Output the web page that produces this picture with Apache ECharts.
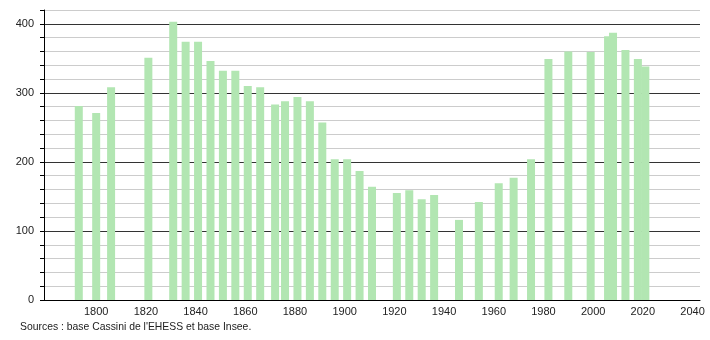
<!DOCTYPE html>
<html>
<head>
<meta charset="utf-8">
<script src="https://cdn.jsdelivr.net/npm/echarts@6/dist/echarts.min.js"></script>
<style>html,body{margin:0;padding:0;background:#fff}#c{width:710px;height:340px}</style>
</head>
<body>
<div id="c"></div>
<script>
const years = [1793,1800,1806,1821,1831,1836,1841,1846,1851,1856,1861,1866,1872,1876,1881,1886,1891,1896,1901,1906,1911,1921,1926,1931,1936,1946,1954,1962,1968,1975,1982,1990,1999,2006,2008,2013,2018,2021];
const population = [281,271,308,351,403,374,374,346,332,332,310,308,283,288,294,288,257,204,204,187,164,155,159,146,152,116,142,169,177,204,349,360,359,382,387,362,349,338];
const xTickLabels = [1800,1820,1840,1860,1880,1900,1920,1940,1960,1980,2000,2020,2040];
const yTickLabels = [0,100,200,300,400];
const sourceText = "Sources : base Cassini de l'EHESS et base Insee.";

const chart = echarts.init(document.getElementById('c'), null, {renderer:'canvas'});
chart.setOption({
  animation:false,
  backgroundColor:'#fff',
  grid:{left:44,right:10,top:10,bottom:40,containLabel:false},
  xAxis:{
    type:'value',min:1779,max:2043,
    axisLine:{show:true,lineStyle:{color:'#000',width:1}},
    axisTick:{show:false},
    splitLine:{show:false},
    axisLabel:{customValues:xTickLabels,color:'#222',fontSize:11,fontFamily:'Liberation Sans, Arial, sans-serif',margin:6,
      formatter:function(v){return String(v);}}
  },
  yAxis:{
    type:'value',min:0,max:420,interval:20,
    axisLine:{show:true,lineStyle:{color:'#000',width:1}},
    axisTick:{show:true,length:4,inside:false,lineStyle:{color:'#000'}},
    splitLine:{show:true,lineStyle:{color:['#333','#ccc','#ccc','#ccc','#ccc'],width:1}},
    axisLabel:{
      color:'#222',fontSize:11,fontFamily:'Liberation Sans, Arial, sans-serif',margin:10,
      formatter:function(v){return yTickLabels.indexOf(v)>=0?String(v):'';}
    }
  },
  graphic:[{type:'text',left:20,top:322,style:{text:sourceText,fill:'#222',font:'10.4px "Liberation Sans", Arial, sans-serif'}}],
  series:[{
    type:'bar',
    barWidth:8,
    itemStyle:{color:'#b2e6b2'},
    data:years.map((y,i)=>[y,population[i]])
  }]
});
</script>
</body>
</html>
